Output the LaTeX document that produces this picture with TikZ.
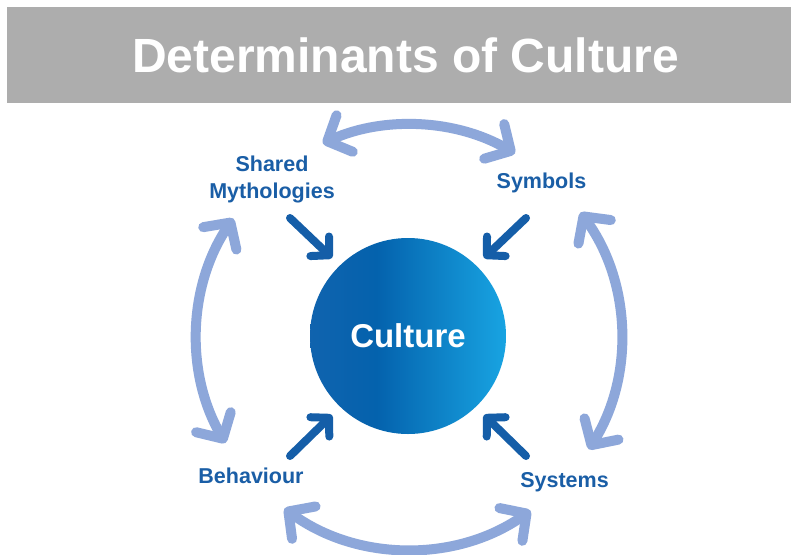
\documentclass[tikz,border=0pt]{standalone}
\usepackage{fontspec}
\setmainfont{Liberation Sans}
\usetikzlibrary{arrows.meta,calc}
\definecolor{band}{HTML}{ADADAD}
\definecolor{ink}{HTML}{1A5EA6}
\definecolor{darkarrow}{HTML}{155EA8}
\definecolor{lightarrow}{HTML}{8DA7DA}
\definecolor{globeL}{HTML}{1063AE}
\definecolor{globeM}{HTML}{0462AD}
\definecolor{globeR}{HTML}{18A4E2}
% horizontal blue gradient for the central disc (path spans 25bp..75bp)
\pgfdeclarehorizontalshading{globe}{100bp}{color(0bp)=(globeL); color(25bp)=(globeL); color(42bp)=(globeM); color(75bp)=(globeR); color(100bp)=(globeR)}
\begin{document}
\begin{tikzpicture}[x=1pt,y=-1pt,
  determinant/.style={font=\fontsize{21.5}{27}\selectfont\bfseries, text=ink, inner sep=0pt, align=center},
  inflow/.style={draw=darkarrow, line width=8pt, line cap=round,
    -{Straight Barb[round,length=13pt,width=27pt]}},
  loopflow/.style={draw=lightarrow, line width=10pt, line cap=round,
    {Straight Barb[round,length=19pt,width=40pt]}-{Straight Barb[round,length=19pt,width=40pt]}}]
\useasboundingbox (0,0) rectangle (791,554);
\fill[white] (0,0) rectangle (791,554);

% title band
\fill[band] (7,7) rectangle (791,103);
\node[font=\fontsize{48}{56}\selectfont\bfseries, text=white, inner sep=0pt, anchor=base] (title) at (405.5,72) {Determinants of Culture};

% central disc
\node[circle, minimum size=196pt, inner sep=0pt, shade, shading=globe,
      font=\fontsize{33}{40}\selectfont\bfseries, text=white] (c) at (408,336) {Culture};

% the four determinants
\node[determinant, anchor=base] (myth) at (272,198) {Shared\\Mythologies};
\node[determinant, anchor=base] (sym) at (541.5,188) {Symbols};
\node[determinant, anchor=base] (beh) at (251,483) {Behaviour};
\node[determinant, anchor=base] (sys) at (564.5,487) {Systems};

% inward arrows
\coordinate (myth-a) at ($(c.center)+(-118,-118)$);
\coordinate (myth-b) at ($(c.center)+(-76,-78)$);
\coordinate (sym-a)  at ($(c.center)+(118,-118)$);
\coordinate (sym-b)  at ($(c.center)+(76,-78)$);
\coordinate (beh-a)  at ($(c.center)+(-118,120)$);
\coordinate (beh-b)  at ($(c.center)+(-76,79)$);
\coordinate (sys-a)  at ($(c.center)+(118,120)$);
\coordinate (sys-b)  at ($(c.center)+(76,79)$);
\draw[inflow] (myth-a) -- (myth-b);
\draw[inflow] (sym-a) -- (sym-b);
\draw[inflow] (beh-a) -- (beh-b);
\draw[inflow] (sys-a) -- (sys-b);

% outer ring of two-way arrows
\coordinate (ring) at (409,337);
\draw[loopflow] ($(ring)+(-114:212)$) arc[start angle=-114, end angle=-60, radius=212];
\draw[loopflow] ($(ring)+(-36:212)$) arc[start angle=-36, end angle=32, radius=212];
\draw[loopflow] ($(ring)+(55:212)$) arc[start angle=55, end angle=126, radius=212];
\draw[loopflow] ($(ring)+(-146:212)$) arc[start angle=-146, end angle=-210, radius=212];
\end{tikzpicture}
\end{document}
